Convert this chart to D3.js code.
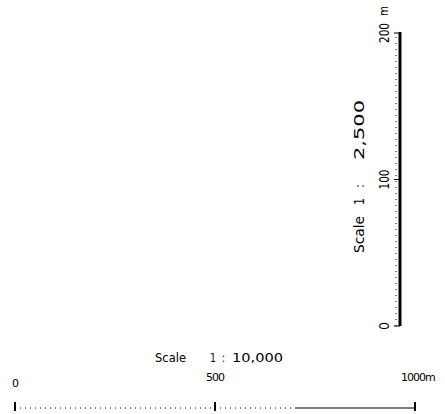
<!DOCTYPE html>
<html>
<head>
<meta charset="utf-8">
<script src="https://cdn.jsdelivr.net/npm/d3@7"></script>
<style>
body { margin: 0; background: #fff; }
text { font-family: "DejaVu Sans", "Noto Sans", sans-serif; fill: #000; }
</style>
</head>
<body>
<svg width="445" height="414"></svg>
<script>
// scale bar values
var hTicks = [0, 500, 1000];
var hUnit = "m";
var hTitle = ["Scale", "1", ":", "10,000"];

var vTicks = [0, 100, 200];
var vUnit = "m";
var vTitle = ["Scale", "1", ":", "2,500"];

var svg = d3.select("svg");

// horizontal scale bar
var xScale = d3.scaleLinear().domain([0, 1000]).range([15, 415]);
var hy = 408;

var hg = svg.append("g").attr("transform", "translate(0," + hy + ")");

hg.append("line")
.attr("x1", xScale(0)).attr("x2", xScale(700))
.attr("stroke", "#000").attr("stroke-width", 1)
.attr("stroke-dasharray", "1,4");

hg.append("line")
.attr("x1", xScale(700)).attr("x2", xScale(1000))
.attr("stroke", "#000").attr("stroke-width", 1.2);

hg.selectAll(".htick")
.data(hTicks)
.enter()
.append("line")
.attr("class", "htick")
.attr("x1", (d)=>xScale(d)).attr("x2", (d)=>xScale(d))
.attr("y1", -6).attr("y2", 3)
.attr("stroke", "#000").attr("stroke-width", 2);

hg.selectAll(".hlab")
.data(hTicks)
.enter()
.append("text")
.attr("class", "hlab")
.attr("x", (d,i)=> i == hTicks.length-1 ? xScale(d) - 14 : xScale(d))
.attr("y", (d,i)=> i == 0 ? -21 : -27)
.attr("text-anchor", (d,i)=> i == hTicks.length-1 ? "start" : "middle")
.style("font-size", "11px")
.style("letter-spacing", "-1px")
.text((d,i)=> i == hTicks.length-1 ? d + hUnit : d);

// title pieces laid out along the bar
var hPos = [155, 210, 222, 232];
var hW = [31, 6, 3, 51];
svg.selectAll(".htitle")
.data(hTitle)
.enter()
.append("text")
.attr("class", "htitle")
.attr("x", (d,i)=>hPos[i])
.attr("y", 362)
.style("font-size", "13px")
.attr("textLength", (d,i)=>hW[i])
.attr("lengthAdjust", "spacingAndGlyphs")
.text((d)=>d);

// vertical scale bar
var yScale = d3.scaleLinear().domain([0, 200]).range([326, 33]);
var vx = 400;

var vg = svg.append("g").attr("transform", "translate(" + vx + ",0)");

vg.append("line")
.attr("x1", -4).attr("x2", -4)
.attr("y1", yScale(0)).attr("y2", yScale(200))
.attr("stroke", "#000").attr("stroke-width", 1)
.attr("stroke-dasharray", "1,5");

vg.append("line")
.attr("x1", 0).attr("x2", 0)
.attr("y1", yScale(0)).attr("y2", yScale(200) - 1)
.attr("stroke", "#000").attr("stroke-width", 3);

vg.selectAll(".vtick")
.data(vTicks)
.enter()
.append("line")
.attr("class", "vtick")
.attr("x1", -6).attr("x2", 0)
.attr("y1", (d)=>yScale(d)).attr("y2", (d)=>yScale(d))
.attr("stroke", "#000").attr("stroke-width", 1);

var vLabW = [8, 20, 20];
vg.selectAll(".vlab")
.data(vTicks)
.enter()
.append("text")
.attr("class", "vlab")
.attr("transform", (d,i)=>"translate(-11," + (yScale(d) + vLabW[i]/2) + ") rotate(-90)")
.style("font-size", "14px")
.attr("textLength", (d,i)=>vLabW[i])
.attr("lengthAdjust", "spacingAndGlyphs")
.text((d)=>d);

vg.append("text")
.attr("transform", "translate(-12," + (yScale(200) - 17) + ") rotate(-90)")
.style("font-size", "12px")
.attr("textLength", 10)
.attr("lengthAdjust", "spacingAndGlyphs")
.text(vUnit);

var vPos = [253, 205, 188, 160];
var vW = [37, 7, 4, 60];
svg.selectAll(".vtitle")
.data(vTitle)
.enter()
.append("text")
.attr("class", "vtitle")
.attr("transform", (d,i)=>"translate(364," + vPos[i] + ") rotate(-90)")
.style("font-size", "14px")
.attr("textLength", (d,i)=>vW[i])
.attr("lengthAdjust", "spacingAndGlyphs")
.text((d)=>d);
</script>
</body>
</html>
